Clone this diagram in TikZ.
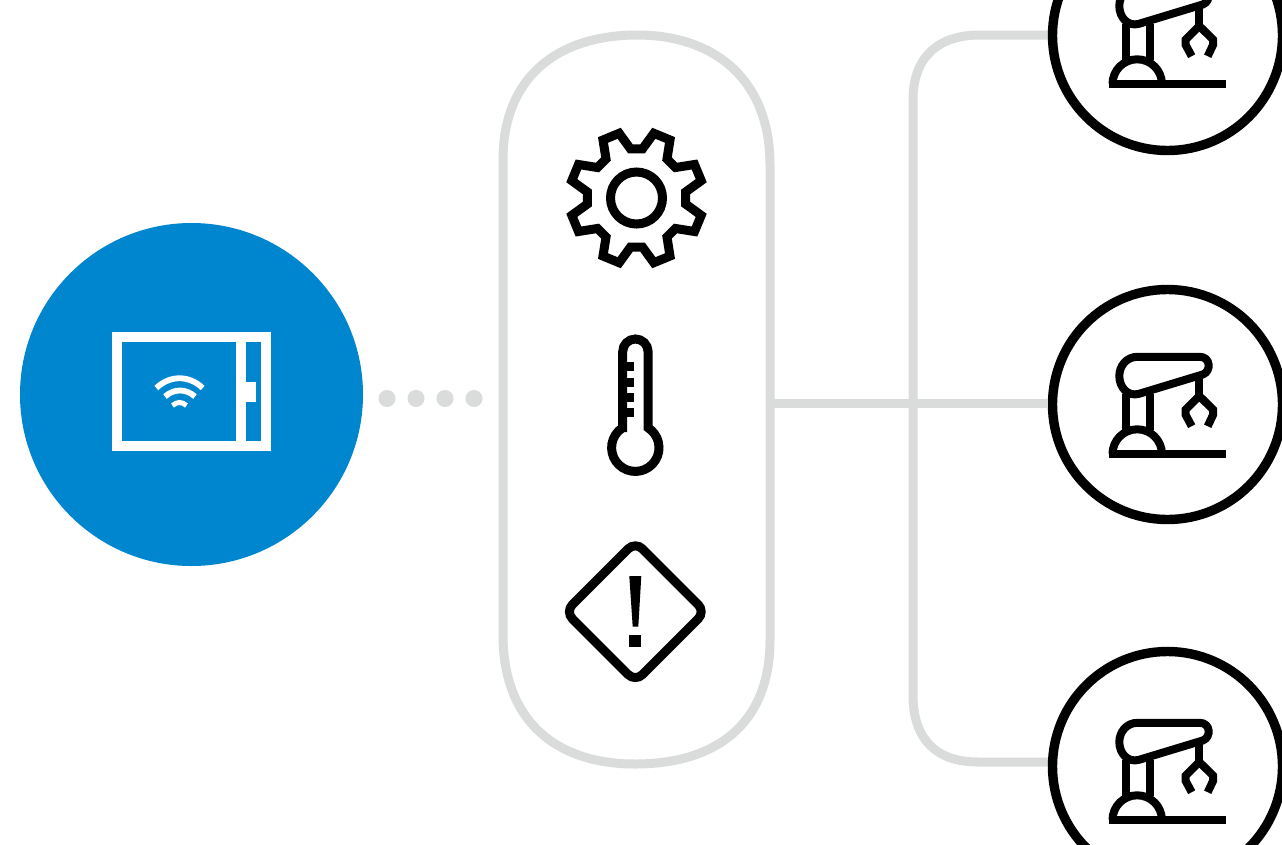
\documentclass[tikz,border=0pt]{standalone}
\definecolor{hubblue}{HTML}{0086CE}
\definecolor{linegrey}{HTML}{DADBDB}
\tikzset{
  x=1pt,y=-1pt,
  greyline/.style={draw=linegrey,line width=9pt},
  iconline/.style={draw=black,line width=9pt,line join=miter},
  robotline/.style={draw=black,line width=8pt},
  ringnode/.style={circle,draw=black,line width=9.4pt,fill=white,minimum size=230pt,inner sep=0pt},
  hubnode/.style={circle,fill=hubblue,minimum size=343pt,inner sep=0pt,outer sep=0pt},
  dotnode/.style={circle,fill=linegrey,minimum size=17pt,inner sep=0pt,outer sep=0pt},
  pillnode/.style={rectangle,minimum width=267pt,minimum height=729pt,inner sep=0pt,outer sep=0pt},
  wifiline/.style={draw=white,line width=5.8pt},
  pics/robot/.style={code={
    \draw[robotline] (-58,50) -- (59,50);
    \draw[robotline] (-54,50) arc (180:360:24.7);
    \draw[robotline] (-40.8,-10) -- (-40.8,26);
    \draw[robotline] (-16.8,-10) -- (-16.8,26);
    \draw[robotline] (-29,-47.2) -- (33.2,-47.2)
       .. controls (44,-47.2) and (45,-33) .. (36.5,-29.6)
       -- (-27.5,-10.2)
       .. controls (-39,-7) and (-47.2,-17) .. (-47.2,-28)
       .. controls (-47.2,-38) and (-40,-47.2) .. (-29,-47.2) -- cycle;
    \draw[robotline] (32.8,-29) -- (32.8,-8);
    \draw[robotline] (25.2,22.2) -- (19.2,11) -- (19.2,5.5) -- (32.8,-8) -- (46.5,5.5) -- (46.5,11) -- (41.2,22.2);
  }}
}
\begin{document}
\begin{tikzpicture}
\useasboundingbox (0,0) rectangle (1282,844);
\fill[white] (0,0) rectangle (1282,844);
% pill
\node[pillnode] (pill) at (636,399.5) {};
\draw[greyline] (503,160) .. controls (503,75) and (560,35) .. (637,35)
  .. controls (715,35) and (770,80) .. (770,165) -- (770,640)
  .. controls (770,725) and (715,764) .. (635,764)
  .. controls (555,764) and (503,720) .. (503,635) -- cycle;
% connector
\coordinate (stem) at (913,403.5);
\coordinate (top) at (1052,35);
\coordinate (bottom) at (1052,762);
\draw[greyline] (top) -- (980,35) .. controls (935,35) and (913,60) .. (913,100)
  -- (913,695) .. controls (913,738) and (935,762) .. (978,762) -- (bottom);
% rings
\node[ringnode] (r2) at (1167.5,404.5) {};
\node[ringnode] (r1) at (1167.5,35.5) {};
\node[ringnode] (r3) at (1167.5,766.5) {};
\draw[greyline] (pill.east |- stem) -- (r2.west |- stem);
\pic at (1166.5,404) {robot};
\pic at (1166.5,34) {robot};
\pic at (1166.5,770) {robot};
% hub
\node[hubnode] (hub) at (191.5,394.5) {};
\fill[white] (112.3,332.3) rectangle (271,451);
\fill[hubblue] (122.3,342.3) rectangle (236.3,441.3);
\fill[hubblue] (246.3,342.3) rectangle (261.3,441.3);
\fill[white] (246.3,382) rectangle (256.3,401.7);
\draw[wifiline] (156.3,388) .. controls (170,375) and (189,375) .. (202.7,388);
\draw[wifiline] (165,396.5) .. controls (174,388.5) and (186,388.5) .. (195,396.5);
\draw[wifiline,line width=5pt] (172.5,405.5) .. controls (177,401.5) and (182,401.5) .. (186.5,405.5);
% dots
\node[dotnode] (d1) at (387,398.5) {};
\node[dotnode] (d2) at (416,398.5) {};
\node[dotnode] (d3) at (445,398.5) {};
\node[dotnode] (d4) at (474,398.5) {};
% gear
\begin{scope}[shift={(636.5,198)}]
\draw[iconline] (-7:49.5)
  \foreach \a in {0,45,...,315} {
    -- (\a+7:49.5) -- (\a+15:67) -- (\a+30:67) -- (\a+38:49.5)
  } -- cycle;
\draw[iconline] (0,0) circle (26);
\end{scope}
% thermometer
\draw[iconline] (622.7,427.7) -- (622.7,351.7) arc (180:360:12.7) -- (648,427.7)
  arc (-57.6:237.6:23.7) -- cycle;
\fill (626.7,362.3) rectangle (634.3,371);
\fill (626.7,378.3) rectangle (634.3,386.7);
\fill (626.7,393.3) rectangle (634.3,401.7);
\fill (626.7,408.3) rectangle (634.3,416.7);
% warning
\draw[iconline,rounded corners=10pt] (635.3,541.7) -- (705.3,611.7) -- (635.3,681.7) -- (565.3,611.7) -- cycle;
\fill (629.3,576) -- (641.3,576) -- (638.3,626.7) -- (632.7,626.7) -- cycle;
\fill (629.3,635) rectangle (641.3,646.7);
\end{tikzpicture}
\end{document}
